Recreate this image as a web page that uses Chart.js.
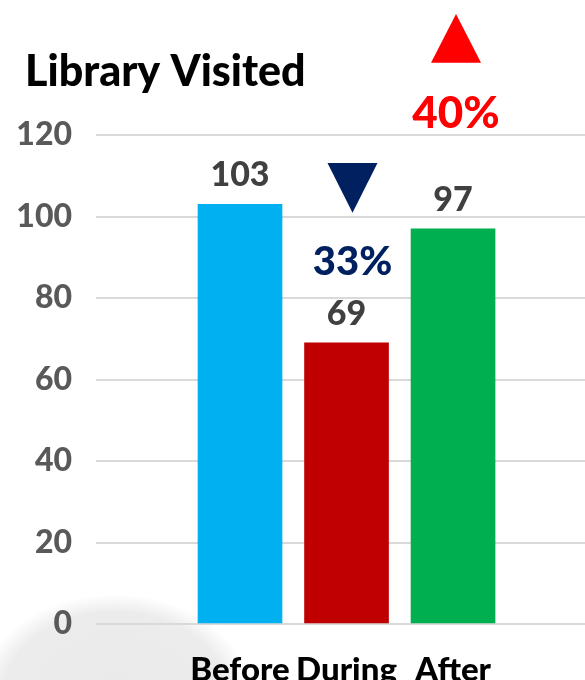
<html>
<head>
<script src="https://cdn.jsdelivr.net/npm/chart.js@4.4.0/dist/chart.umd.min.js"></script>
</head>
<body style="margin:0; background:#fff; overflow:hidden;">
<div style="width:585px; height:680px; background: radial-gradient(ellipse 135px 100px at 115px 694px, #eaeaea 0%, #ececec 82%, rgba(240,240,240,0) 100%);">
<canvas id="libChart" width="585" height="680"></canvas>
</div>

<script>
const title = 'Library Visited';
const categories = ['Before', 'During', 'After'];
const visits = [103, 69, 97];
const barColors = ['#00B0F0', '#C00000', '#00B050'];
const yTicks = [0, 20, 40, 60, 80, 100, 120];
const changeText = ['', '33%', '40%'];
const changeColors = ['', '#002060', '#FF0000'];

// where the change notes sit (y in axis units, dx in px from bar centre)
const notes = [null,
  {dx: 6, size: 40, text: 85.6, base: 113.1, tip: 100.9},
  {dx: 3, size: 44, text: 121.7, base: 137.7, tip: 149.7}];

const font = 'Lato';

const labelPlugin = {
  id: 'barLabels',
  afterDatasetsDraw(chart) {
    const ctx = chart.ctx;
    const y = chart.scales.y;
    const meta = chart.getDatasetMeta(0);
    ctx.save();
    // title, left aligned at the page edge
    ctx.fillStyle = '#000';
    ctx.font = '900 43px ' + font;
    ctx.textAlign = 'left';
    ctx.textBaseline = 'alphabetic';
    ctx.fillText(title, 25, 86);

    ctx.textAlign = 'center';
    meta.data.forEach((bar, i) => {
      ctx.fillStyle = '#404040';
      ctx.font = '900 34px ' + font;
      ctx.fillText(visits[i], bar.x, bar.y - 18);
      const n = notes[i];
      if (!n) return;
      const cx = bar.x + n.dx;
      ctx.fillStyle = changeColors[i];
      ctx.font = '900 ' + n.size + 'px ' + font;
      ctx.fillText(changeText[i], cx, y.getPixelForValue(n.text));
      const b = y.getPixelForValue(n.base), t = y.getPixelForValue(n.tip);
      ctx.beginPath();
      ctx.moveTo(cx - 25, b);
      ctx.lineTo(cx + 25, b);
      ctx.lineTo(cx, t);
      ctx.closePath();
      ctx.fill();
    });
    ctx.restore();
  }
};

new Chart('libChart', {
  type: 'bar',
  data: {
    datasets: [{
      data: visits.map((v, i) => ({x: i + 1, y: v})),
      backgroundColor: barColors,
      barThickness: 84
    }]
  },
  options: {
    responsive: false,
    animation: false,
    devicePixelRatio: 1,
    layout: {padding: {left: 0, right: 0, top: 135, bottom: 0}},
    plugins: {
      legend: {display: false},
      tooltip: {enabled: false},
      title: {display: false}
    },
    scales: {
      x: {
        type: 'linear',
        offset: false,
        min: -0.352,
        max: 4.239,
        grid: {display: false},
        border: {display: false},
        afterBuildTicks: s => { s.ticks = categories.map((c, i) => ({value: i + 1})); },
        afterFit: s => { s.height = 56; },
        ticks: {
          autoSkip: false,
          maxRotation: 0,
          padding: 19,
          color: '#000',
          font: {family: font, size: 33, weight: 900},
          callback: v => categories[v - 1]
        }
      },
      y: {
        min: yTicks[0],
        max: yTicks[yTicks.length - 1],
        afterFit: s => { s.width = 96; },
        grid: {color: '#d9d9d9', lineWidth: 2, drawTicks: false},
        border: {display: false},
        ticks: {
          stepSize: 20,
          padding: 24,
          color: '#595959',
          font: {family: font, size: 32, weight: 900}
        }
      }
    }
  },
  plugins: [labelPlugin]
});
</script>
</body>
</html>
